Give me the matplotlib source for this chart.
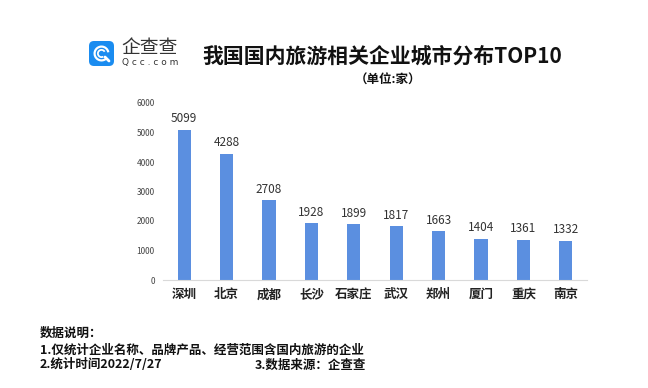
import matplotlib.pyplot as plt
from matplotlib.patches import FancyBboxPatch, Wedge

plt.rcParams['font.family'] = ['Noto Sans CJK SC', 'DejaVu Sans']

cities = ['深圳', '北京', '成都', '长沙', '石家庄', '武汉', '郑州', '厦门', '重庆', '南京']
counts = [5099, 4288, 2708, 1928, 1899, 1817, 1663, 1404, 1361, 1332]
yticks = [0, 1000, 2000, 3000, 4000, 5000, 6000]

W, H = 648, 388
fig = plt.figure(figsize=(W / 100, H / 100), dpi=100)

# main bar chart
ax = fig.add_axes([163 / W, 1 - 280 / H, (587 - 163) / W, (280 - 103) / H])
x = range(len(cities))
ax.bar(x, counts, width=0.31, color='#5b8fe0', zorder=2)
for i, v in enumerate(counts):
    ax.text(i, v + 150, str(v), ha='center', va='bottom', fontsize=8.5, color='#333333')

ax.set_xlim(-0.5, 9.5)
ax.set_ylim(0, 6000)
ax.set_yticks(yticks)
ax.set_yticklabels([str(t) for t in yticks], fontsize=6, color='#444444')
ax.set_xticks(list(x))
ax.set_xticklabels(cities, fontsize=9, fontweight='bold', color='#222222')
ax.tick_params(axis='both', length=0)
ax.tick_params(axis='y', pad=6)
ax.tick_params(axis='x', pad=6)
for s in ['top', 'right', 'left']:
    ax.spines[s].set_visible(False)
ax.spines['bottom'].set_color('#d9d9d9')
ax.spines['bottom'].set_linewidth(0.8)

# logo
lax = fig.add_axes([0, 0, 1, 1], facecolor='none')
lax.set_xlim(0, W)
lax.set_ylim(H, 0)
lax.axis('off')
lax.add_patch(FancyBboxPatch((89, 41), 25, 25, boxstyle='round,pad=0,rounding_size=5',
                             facecolor='#1a8cf0', edgecolor='none'))
lax.add_patch(Wedge((101.5, 53.5), 8, 40, 350, width=2.2, facecolor='white', edgecolor='none'))
lax.add_patch(Wedge((101.5, 53.5), 4.5, 60, 330, width=1.8, facecolor='white', edgecolor='none'))
lax.plot([105, 109], [57, 61], color='white', lw=2, solid_capstyle='round')
lax.text(121, 48, '企查查', fontsize=13.5, color='#333333', va='center', ha='left')
lax.text(122, 63, 'Q c c . c o m', fontsize=6.5, color='#333333', va='center', ha='left',
         family='DejaVu Sans')

# title
fig.text(382 / W, 1 - 56 / H, '我国国内旅游相关企业城市分布TOP10', fontsize=15,
         fontweight='bold', ha='center', va='center', color='#111111')
fig.text(388 / W, 1 - 80 / H, '（单位:家）', fontsize=9, fontweight='bold',
         ha='center', va='center', color='#111111')

# footer notes
fig.text(40 / W, 1 - 333 / H, '数据说明：', fontsize=9, fontweight='bold', va='center', color='#111111')
fig.text(40 / W, 1 - 350 / H, '1.仅统计企业名称、品牌产品、经营范围含国内旅游的企业', fontsize=9,
         fontweight='bold', va='center', color='#111111')
fig.text(40 / W, 1 - 365 / H, '2.统计时间2022/7/27', fontsize=9, fontweight='bold',
         va='center', color='#111111')
fig.text(366 / W, 1 - 365 / H, '3.数据来源：企查查', fontsize=9, fontweight='bold',
         va='center', ha='right', color='#111111')

fig.savefig('out.png', dpi=100)
